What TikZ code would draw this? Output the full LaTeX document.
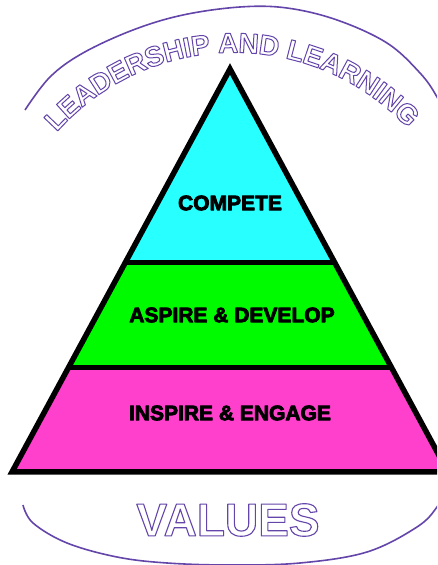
\documentclass[tikz,border=0pt]{standalone}
\usepackage{fontspec}
\setmainfont{Liberation Sans}
\definecolor{cyanfill}{RGB}{40,255,255}
\definecolor{greenfill}{RGB}{0,250,0}
\definecolor{pinkfill}{RGB}{255,64,204}
\definecolor{arcpurple}{RGB}{100,70,170}
\newcommand\outl[2]{{\color{arcpurple}\special{pdf:literal direct #1 w 1 j 1 Tr}#2\special{pdf:literal direct 0 Tr}}}
\newcommand\heavy[1]{{\special{pdf:literal direct 0.8 w 1 j 2 Tr}#1\special{pdf:literal direct 0 Tr}}}
\tikzset{
  arcline/.style={draw=arcpurple, line width=1.6pt},
  pyroutline/.style={draw=black, line width=5.5pt, line join=miter},
  bandline/.style={draw=black, line width=5pt},
  lbl/.style={font=\fontsize{21}{25}\selectfont\bfseries, text=black, inner sep=0pt},
  toplet/.style={font=\fontsize{28}{32}\selectfont\bfseries, inner sep=0pt},
  bottxt/.style={font=\fontsize{46}{52}\selectfont\bfseries, inner sep=0pt}
}
\begin{document}
\begin{tikzpicture}[x=1pt,y=1pt]
\useasboundingbox (0,0) rectangle (437,565);
\clip (0,0) rectangle (437,565);
\fill[white] (0,0) rectangle (437,565);
% outer arcs
\draw[arcline] plot[smooth, tension=0.6] coordinates {(25,455) (50,488) (83,512) (133,535) (183,550) (240,558) (287,557) (337,545) (387,522) (420,492) (437,468) (450,440)};
\draw[arcline] plot[smooth, tension=0.6] coordinates {(23,60) (33,42) (67,22) (117,8) (167,2) (230,0) (300,2) (367,13) (417,38) (437,58) (445,75)};
% curved title
\foreach \ch/\ang [count=\i] in {L/136.3,E/132.06,A/127.46,D/122.67,E/118.07,R/113.46,S/108.86,H/104.25,I/100.94,P/97.81,A/91.36,N/86.57,D/81.78,L/75.52,E/71.29,A/66.68,R/61.89,N/57.11,I/53.79,N/50.48,G/45.5}
  \node[toplet, rotate=\ang-90] (title\i) at ({234+247*cos(\ang)},{275+247*sin(\ang)}) {\outl{1}{\ch}};
% values
\node[bottxt] (values) at (228,45) {\outl{1.1}{VALUES}};
% pyramid
\coordinate (apex) at (230,496);
\coordinate (bl) at (12,93);
\coordinate (br) at (448,93);
\begin{scope}
\clip (apex)--(bl)--(br)--cycle;
\fill[pinkfill] (0,90) rectangle (460,197.5);
\fill[greenfill] (0,197.5) rectangle (460,302.5);
\fill[cyanfill] (0,302.5) rectangle (460,500);
\draw[bandline] (0,197.5) -- (460,197.5);
\draw[bandline] (0,302.5) -- (460,302.5);
\end{scope}
\draw[pyroutline] (apex)--(bl)--(br)--cycle;
% labels
\node[lbl] (compete) at (230,362) {\heavy{COMPETE}};
\node[lbl] (aspire) at (232,250) {\heavy{ASPIRE \& DEVELOP}};
\node[lbl] (inspire) at (230,152) {\heavy{INSPIRE \& ENGAGE}};
\end{tikzpicture}
\end{document}
